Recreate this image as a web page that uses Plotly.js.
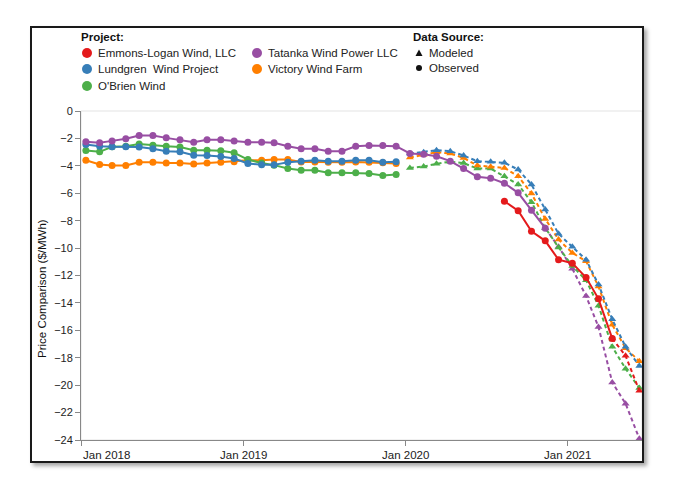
<!DOCTYPE html>
<html><head><meta charset="utf-8">
<script src="https://cdn.plot.ly/plotly-3.0.1.min.js"></script>
<style>
html,body{margin:0;padding:0;background:#fff;}
#chart{position:absolute;left:0;top:0;width:673px;height:484px;}
#frame{position:absolute;left:30px;top:26px;width:614px;height:437px;box-sizing:border-box;border:2px solid #1a1a1a;box-shadow:3px 3px 4px rgba(0,0,0,0.35);pointer-events:none;}
</style></head><body>
<div id="chart"></div>
<div id="frame"></div>
<script>
// ---- data ----
const months = ['2018-01-12','2018-02-12','2018-03-12','2018-04-12','2018-05-12','2018-06-12','2018-07-12','2018-08-12','2018-09-12','2018-10-12','2018-11-12','2018-12-12',
'2019-01-12','2019-02-12','2019-03-12','2019-04-12','2019-05-12','2019-06-12','2019-07-12','2019-08-12','2019-09-12','2019-10-12','2019-11-12','2019-12-12',
'2020-01-12','2020-02-12','2020-03-12','2020-04-12','2020-05-12','2020-06-12','2020-07-12','2020-08-12','2020-09-12','2020-10-12','2020-11-12','2020-12-12',
'2021-01-12','2021-02-12','2021-03-12','2021-04-12','2021-05-12','2021-06-12'];

const projects = ["Emmons-Logan Wind, LLC","Lundgren  Wind Project","O'Brien Wind","Tatanka Wind Power LLC","Victory Wind Farm"];
const colors = ['#e41a1c','#377eb8','#4daf4a','#984ea3','#ff7f00'];
const sources = ['Modeled','Observed'];
const yTitle = 'Price Comparison ($/MWh)';

const _ = null;
// Observed values ($/MWh), one per month (index 0 = Jan 2018)
const emmonsObserved = [_,_,_,_,_,_,_,_,_,_,_,_, _,_,_,_,_,_,_,_,_,_,_,_,
  _,_,_,_,_,_,_,-6.58,-7.28,-8.77,-9.47,-10.85, -11.1,-12.15,-13.7,-16.6,_,_];
const lundgrenObserved = [-2.45,-2.57,-2.61,-2.61,-2.63,-2.76,-2.93,-2.98,-3.22,-3.25,-3.32,-3.47,
  -3.83,-3.93,-3.93,-3.74,-3.66,-3.6,-3.66,-3.66,-3.6,-3.6,-3.74,-3.7,
  _,_,_,_,_,_,_,_,_,_,_,_, _,_,_,_,_,_];
const obrienObserved = [-2.88,-2.98,-2.61,-2.57,-2.4,-2.5,-2.57,-2.63,-2.87,-2.87,-2.9,-3.05,
  -3.54,-3.8,-3.95,-4.2,-4.32,-4.32,-4.51,-4.51,-4.51,-4.56,-4.71,-4.64,
  _,_,_,_,_,_,_,_,_,_,_,_, _,_,_,_,_,_];
const tatankaObserved = [-2.25,-2.32,-2.18,-2.03,-1.79,-1.79,-1.96,-2.1,-2.28,-2.1,-2.1,-2.18,
  -2.28,-2.28,-2.32,-2.57,-2.76,-2.76,-2.93,-2.93,-2.57,-2.52,-2.52,-2.57,
  -3.1,-3.15,-3.3,-3.66,-4.2,-4.8,-4.9,-5.27,-5.97,-7.24,-8.55,_, _,_,_,_,_,_];
const victoryObserved = [-3.59,-3.9,-3.98,-3.98,-3.74,-3.74,-3.8,-3.8,-3.86,-3.8,-3.74,-3.7,
  -3.6,-3.6,-3.54,-3.54,-3.72,-3.72,-3.74,-3.74,-3.72,-3.74,-3.78,-3.83,
  _,_,_,_,_,_,_,_,_,_,_,_, _,_,_,_,_,_];

// Modeled values ($/MWh)
const emmonsModeled = [_,_,_,_,_,_,_,_,_,_,_,_, _,_,_,_,_,_,_,_,_,_,_,_,
  _,_,_,_,_,_,_,_,_,_,_,_, _,_,_,-16.6,-17.85,-20.4];
const lundgrenModeled = [_,_,_,_,_,_,_,_,_,_,_,_, _,_,_,_,_,_,_,_,_,_,_,_,
  -3.1,-3.0,-2.86,-2.93,-3.25,-3.66,-3.71,-3.78,-4.27,-5.36,-7.19,-8.96, -9.91,-10.85,-12.66,-15.2,-17.2,-18.6];
const obrienModeled = [_,_,_,_,_,_,_,_,_,_,_,_, _,_,_,_,_,_,_,_,_,_,_,_,
  -4.15,-4.05,-3.85,-3.7,-3.8,-4.2,-4.2,-4.76,-5.36,-6.65,-8.53,-9.95, -11.3,-12.35,-14.2,-17.2,-18.8,-20.2];
const tatankaModeled = [_,_,_,_,_,_,_,_,_,_,_,_, _,_,_,_,_,_,_,_,_,_,_,_,
  _,_,_,_,_,_,_,_,_,_,-8.55,-9.9, -11.5,-13.5,-15.75,-19.8,-21.35,-23.9];
const victoryModeled = [_,_,_,_,_,_,_,_,_,_,_,_, _,_,_,_,_,_,_,_,_,_,_,_,
  -3.4,-3.2,-3.0,-3.1,-3.42,-3.98,-4.07,-4.15,-4.76,-6.02,-7.87,-9.38, -10.35,-10.96,-12.8,-15.6,-17.3,-18.25];

const xTickVals = ['2018-01-01','2019-01-01','2020-01-01','2021-01-01'];
const xTickText = ['Jan 2018','Jan 2019','Jan 2020','Jan 2021'];
const yTickVals = [0,-2,-4,-6,-8,-10,-12,-14,-16,-18,-20,-22,-24];

// ---- traces ----
const observed = [emmonsObserved, lundgrenObserved, obrienObserved, tatankaObserved, victoryObserved];
const modeled = [emmonsModeled, lundgrenModeled, obrienModeled, tatankaModeled, victoryModeled];

function modTrace(i){
  return {x: months, y: modeled[i], type:'scatter', mode:'lines+markers', name: projects[i]+' '+sources[0],
    line:{color:colors[i], width:2, dash:'4px,3px'}, marker:{symbol:'triangle-up', size:7, color:colors[i]},
    connectgaps:false, showlegend:false, hoverinfo:'skip'};
}
function obsTrace(i){
  return {x: months, y: observed[i], type:'scatter', mode:'lines+markers', name: projects[i]+' '+sources[1],
    line:{color:colors[i], width:2}, marker:{symbol:'circle', size:7, color:colors[i]},
    connectgaps:false, showlegend:false, hoverinfo:'skip'};
}
const data = [];
[3,2,4,1,0].forEach(i => data.push(modTrace(i)));
[4,2,1,3,0].forEach(i => data.push(obsTrace(i)));

// ---- layout helpers (pixel -> paper) ----
const L = 81, R = 642, T = 111, B = 440;
const W = 673, H = 484;
const px = v => (v - L) / (R - L);
const py = v => (B - v) / (B - T);
const FONT = 'Liberation Sans, Arial, sans-serif';

const shapes = [
  {type:'rect', xref:'paper', yref:'paper', x0:0, x1:1, y0:0, y1:1, line:{color:'#e3e3e3', width:1}, layer:'below'}
];
const annotations = [];

// y axis title
annotations.push({xref:'paper', yref:'paper', x:px(42), y:py(289), text:yTitle, textangle:-90, showarrow:false,
  xanchor:'center', yanchor:'middle', font:{family:FONT, size:11.5, color:'#111'}});

// x tick labels
xTickVals.forEach((v, k) => {
  annotations.push({xref:'x', yref:'paper', x:v, y:py(455), text:xTickText[k], showarrow:false,
    xanchor: k === 0 ? 'left' : 'center', yanchor:'middle', font:{family:FONT, size:11.5, color:'#222'}});
});

// legend: Project
annotations.push({xref:'paper', yref:'paper', x:px(79), y:py(37), text:'<b>Project:</b>', showarrow:false,
  xanchor:'left', yanchor:'middle', font:{family:FONT, size:11.5, color:'#111'}});
const legPos = [[87,53],[87,69],[87,86],[257,53],[257,69]];
projects.forEach((p, i) => {
  const [cx, cy] = legPos[i];
  shapes.push({type:'circle', xref:'paper', yref:'paper', xsizemode:'pixel', ysizemode:'pixel',
    xanchor:px(cx), yanchor:py(cy), x0:-5, x1:5, y0:-5, y1:5, fillcolor:colors[i], line:{width:0}});
  annotations.push({xref:'paper', yref:'paper', x:px(cx+9), y:py(cy), text:p.replace('  ','\u00a0 '), showarrow:false,
    xanchor:'left', yanchor:'middle', font:{family:FONT, size:11.5, color:'#222'}});
});
// legend: Data Source
annotations.push({xref:'paper', yref:'paper', x:px(411), y:py(37), text:'<b>Data Source:</b>', showarrow:false,
  xanchor:'left', yanchor:'middle', font:{family:FONT, size:11.5, color:'#111'}});
shapes.push({type:'path', xref:'paper', yref:'paper', xsizemode:'pixel', ysizemode:'pixel',
  xanchor:px(419), yanchor:py(53), path:'M -3.5,-3 L 3.5,-3 L 0,3.5 Z', fillcolor:'#111', line:{width:0}});
shapes.push({type:'circle', xref:'paper', yref:'paper', xsizemode:'pixel', ysizemode:'pixel',
  xanchor:px(419), yanchor:py(68), x0:-3, x1:3, y0:-3, y1:3, fillcolor:'#111', line:{width:0}});
annotations.push({xref:'paper', yref:'paper', x:px(427), y:py(53), text:sources[0], showarrow:false,
  xanchor:'left', yanchor:'middle', font:{family:FONT, size:11.5, color:'#222'}});
annotations.push({xref:'paper', yref:'paper', x:px(427), y:py(68), text:sources[1], showarrow:false,
  xanchor:'left', yanchor:'middle', font:{family:FONT, size:11.5, color:'#222'}});

const layout = {
  width: W, height: H,
  margin: {l:L, r:W-R, t:T, b:H-B, pad:0},
  paper_bgcolor:'rgba(0,0,0,0)', plot_bgcolor:'#fff',
  showlegend:false, hovermode:false,
  font:{family:FONT, size:11, color:'#222'},
  xaxis:{type:'date', range:['2018-01-01','2021-06-18'], tickvals:xTickVals, showticklabels:false,
    ticks:'outside', ticklen:5, tickcolor:'#888', showline:true, linecolor:'#888', linewidth:1,
    showgrid:false, zeroline:false, fixedrange:true},
  yaxis:{range:[-24,0], tickvals:yTickVals, ticks:'outside', ticklen:5, tickcolor:'#888',
    showline:true, linecolor:'#888', linewidth:1, showgrid:false, zeroline:false,
    tickfont:{family:FONT, size:11, color:'#222'}, fixedrange:true},
  shapes: shapes,
  annotations: annotations
};

Plotly.newPlot('chart', data, layout, {displayModeBar:false, staticPlot:true});
</script>
</body></html>
